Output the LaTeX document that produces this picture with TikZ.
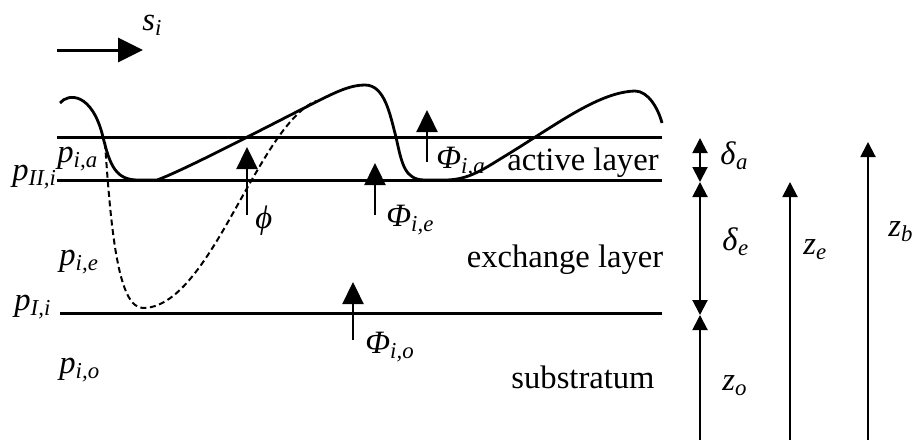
\documentclass[tikz,border=0pt]{standalone}
\usepackage{fontspec}
\setmainfont{Liberation Serif}
\usepackage{tikz}
\usetikzlibrary{arrows.meta}

\newcommand{\symb}[2]{\textit{#1}\textsubscript{\textit{#2}}}

\begin{document}
\begin{tikzpicture}[
  x=0.5pt, y=-0.5pt,
  lyrLine/.style={line width=1.5pt},
  bedCurve/.style={line width=1.4pt},
  bedDash/.style={line width=1pt, dash pattern=on 3pt off 1.8pt},
  fluxArr/.style={-{Triangle[length=11pt,width=10.5pt]}, line width=1.2pt},
  dirArr/.style={-{Triangle[length=12.5pt,width=12pt]}, line width=1.5pt},
  dimArr/.style={-{Triangle[length=7.5pt,width=7.5pt]}, line width=1pt},
  dimDbl/.style={{Triangle[length=7.5pt,width=7.5pt]}-{Triangle[length=7.5pt,width=7.5pt]},
    line width=1pt},
  lblTxt/.style={inner sep=0pt, anchor=base, font=\fontsize{16.3}{19}\selectfont},
  symTxt/.style={inner sep=0pt, anchor=base west, font=\fontsize{16.3}{19}\selectfont},
]
  \useasboundingbox (0,0) rectangle (913,440);

  %% ── Transport direction ─────────────────────────────────────
  \coordinate (dirW) at (57,50);
  \coordinate (dirE) at (143,50);
  \draw[dirArr] (dirW) -- (dirE);
  \node[symTxt] (si) at (142,30) {\symb{s}{i}};

  %% ── Layer boundaries ────────────────────────────────────────
  \coordinate (topW) at (57,137);  \coordinate (topE) at (662,137);
  \coordinate (midW) at (57,180);  \coordinate (midE) at (662,180);
  \coordinate (botW) at (60,313);  \coordinate (botE) at (662,313);
  \foreach \w/\e in {topW/topE, midW/midE, botW/botE}
    \draw[lyrLine] (\w) -- (\e);

  %% ── Bed surface and lowest trough ───────────────────────────
  \draw[bedCurve] (60,103) .. controls (68,93) and (92,92) .. (103,137)
    .. controls (110,166) and (116,180) .. (138,180) -- (157,180)
    .. controls (185,170) and (280,120) .. (320,100)
    .. controls (340,90) and (352,85) .. (365,85)
    .. controls (385,85) and (390,115) .. (396,137)
    .. controls (402,165) and (405,180) .. (425,180) -- (445,180)
    .. controls (470,180) and (485,168) .. (510,153)
    .. controls (560,122) and (600,92) .. (635,91)
    .. controls (648,91) and (658,108) .. (662,123);
  \draw[bedDash] (105,143) .. controls (111,230) and (118,308) .. (143,308)
    .. controls (185,308) and (220,235) .. (250,183)
    .. controls (265,157) and (290,112) .. (316,101);

  %% ── Fluxes ──────────────────────────────────────────────────
  \coordinate (phiT) at (247,215);  \coordinate (phiH) at (247,147);
  \coordinate (faT)  at (427,162);  \coordinate (faH)  at (427,110);
  \coordinate (feT)  at (375,215);  \coordinate (feH)  at (375,163);
  \coordinate (foT)  at (353,340);  \coordinate (foH)  at (353,282);
  \foreach \t/\h in {phiT/phiH, faT/faH, feT/feH, foT/foH}
    \draw[fluxArr] (\t) -- (\h);

  \node[symTxt] (phi) at (255,228) {\textit{ϕ}};
  \node[symTxt] (fa)  at (436,168) {\symb{Φ}{i,a}};
  \node[symTxt] (fe)  at (386,226) {\symb{Φ}{i,e}};
  \node[symTxt] (fo)  at (365,353) {\symb{Φ}{i,o}};

  %% ── Fractions ───────────────────────────────────────────────
  \node[symTxt] (pia)  at (57,162)  {\symb{p}{i,a}};
  \node[symTxt] (pIIi) at (12,180)  {\symb{p}{II,i}};
  \node[symTxt] (pie)  at (59,265)  {\symb{p}{i,e}};
  \node[symTxt] (pIi)  at (14,310)  {\symb{p}{I,i}};
  \node[symTxt] (pio)  at (59,373)  {\symb{p}{i,o}};

  %% ── Layer names ─────────────────────────────────────────────
  \node[lblTxt] (act) at (583,170) {active layer};
  \node[lblTxt] (exc) at (565,267) {exchange layer};
  \node[lblTxt] (sub) at (583,388) {substratum};

  %% ── Thicknesses and levels ──────────────────────────────────
  \coordinate (dA) at (700,138);
  \coordinate (dM) at (700,182);
  \coordinate (dB) at (700,315);
  \coordinate (dG) at (700,440);
  \coordinate (zeG) at (790,440);  \coordinate (zeH) at (790,182);
  \coordinate (zbG) at (868,440);  \coordinate (zbH) at (868,142);
  \draw[dimDbl] (dA) -- (dM);
  \draw[dimDbl] (dM) -- (dB);
  \draw[dimArr] (dG) -- (dB);
  \draw[dimArr] (zeG) -- (zeH);
  \draw[dimArr] (zbG) -- (zbH);

  \node[symTxt] (da) at (720,164) {\symb{δ}{a}};
  \node[symTxt] (de) at (722,250) {\symb{δ}{e}};
  \node[symTxt] (zo) at (722,390) {\symb{z}{o}};
  \node[symTxt] (ze) at (803,254) {\symb{z}{e}};
  \node[symTxt] (zb) at (888,236) {\symb{z}{b}};

\end{tikzpicture}
\end{document}
